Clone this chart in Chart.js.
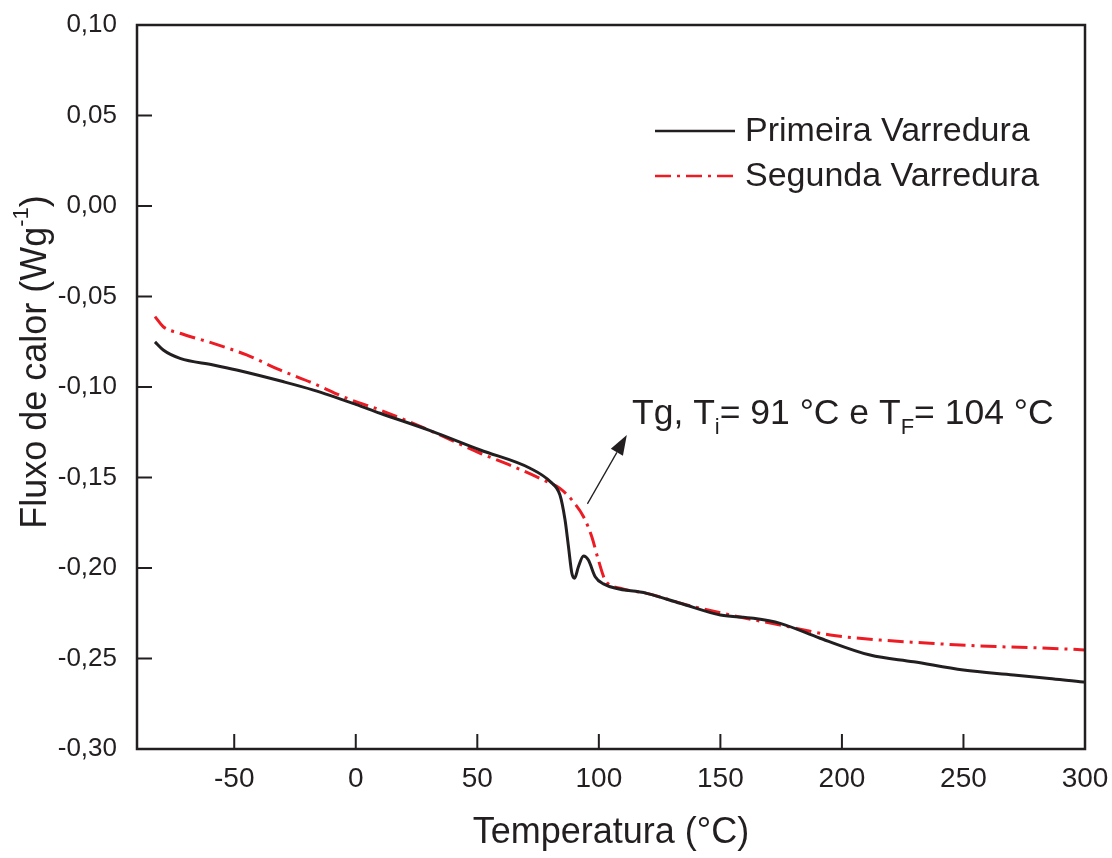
<!DOCTYPE html>
<html>
<head>
<meta charset="utf-8">
<script src="https://cdn.jsdelivr.net/npm/chart.js@4/dist/chart.umd.min.js"></script>
<style>
  html, body { margin: 0; padding: 0; background: #fff; }
  #wrap { width: 1112px; height: 858px; }
</style>
</head>
<body>
<div id="wrap"><canvas id="grafico-dsc"></canvas></div>
<script>
const tempPrimeira = [-82.6, -79.2, -72.3, -58.6, -49, -30, -17.4, 0, 10, 30.6, 51.2, 71.7, 80, 84, 86.1, 87.5, 88.9, 90, 91.6, 93.7, 95.7, 98.5, 101.9, 119.7, 133.5, 150, 163.6, 174.6, 191, 211.6, 229.5, 250, 270.6, 284.3, 298, 300];
const fluxoPrimeira = [-0.0751, -0.0796, -0.0842, -0.0878, -0.0906, -0.0970, -0.1017, -0.1096, -0.1145, -0.1241, -0.1348, -0.1449, -0.1523, -0.1597, -0.1735, -0.1882, -0.2029, -0.2057, -0.1993, -0.1934, -0.1956, -0.2048, -0.2088, -0.2140, -0.2195, -0.2260, -0.2278, -0.2306, -0.2388, -0.2481, -0.2518, -0.2564, -0.2591, -0.2609, -0.2628, -0.2630];

const tempSegunda = [-82.6, -79.2, -72.3, -58.6, -44.9, -31.2, -17.4, -3.7, 10, 30.6, 51.2, 64.9, 78.6, 84, 89.5, 93.7, 97.1, 99.8, 102.6, 108.8, 119.7, 136.2, 154.2, 174.6, 195.2, 215.8, 236.3, 256.9, 277.5, 294.6, 300];
const fluxoSegunda = [-0.0611, -0.0667, -0.0703, -0.0759, -0.0823, -0.0906, -0.0980, -0.1062, -0.1127, -0.1241, -0.1366, -0.1440, -0.1523, -0.1560, -0.1634, -0.1717, -0.1827, -0.1956, -0.2066, -0.2112, -0.2140, -0.2204, -0.2260, -0.2315, -0.2370, -0.2398, -0.2416, -0.2431, -0.2440, -0.2449, -0.2453];

const ticksX = [-50, 0, 50, 100, 150, 200, 250, 300];
const ticksY = [0.10, 0.05, 0.00, -0.05, -0.10, -0.15, -0.20, -0.25, -0.30];

const nomesSeries = ['Primeira Varredura', 'Segunda Varredura'];
// seta da anotação: cauda e ponta (°C, W/g)
const setaTg = [[95.3, -0.1646], [111.5, -0.1265]];

const COR_PRETA = '#231f20';
const COR_VERMELHA = '#ed1c24';
const TRACO_PONTO = [16, 6, 3, 6];
const FONTE = '"Liberation Sans", Arial, sans-serif';

const pares = (xs, ys) => xs.map((x, i) => ({ x: x, y: ys[i] }));

// Desenha moldura, ticks internos, legenda, título do eixo Y e anotação
const extrasPlugin = {
    id: 'extrasDsc',
    afterDatasetsDraw(chart) {
        const ctx = chart.ctx;
        const area = chart.chartArea;
        const sx = chart.scales.x;
        const sy = chart.scales.y;

        ctx.save();
        ctx.strokeStyle = COR_PRETA;
        ctx.lineWidth = 2.5;
        ctx.setLineDash([]);
        ctx.strokeRect(area.left, area.top, area.right - area.left, area.bottom - area.top);

        // ticks para dentro
        ctx.lineWidth = 2;
        ctx.beginPath();
        ticksX.forEach(v => {
            const px = sx.getPixelForValue(v);
            ctx.moveTo(px, area.bottom);
            ctx.lineTo(px, area.bottom - 15);
        });
        ticksY.forEach(v => {
            const py = sy.getPixelForValue(v);
            ctx.moveTo(area.left, py);
            ctx.lineTo(area.left + 15, py);
        });
        ctx.stroke();

        // legenda
        ctx.font = '34px ' + FONTE;
        ctx.fillStyle = COR_PRETA;
        ctx.textBaseline = 'middle';
        ctx.textAlign = 'left';
        const itens = [
            { y: 131, cor: COR_PRETA, dash: [] },
            { y: 176, cor: COR_VERMELHA, dash: TRACO_PONTO }
        ];
        itens.forEach((it, i) => {
            ctx.strokeStyle = it.cor;
            ctx.lineWidth = 2.5;
            ctx.setLineDash(it.dash);
            ctx.beginPath();
            ctx.moveTo(655, it.y);
            ctx.lineTo(735, it.y);
            ctx.stroke();
            ctx.fillText(nomesSeries[i], 745, it.y + 1);
        });
        ctx.setLineDash([]);

        // título do eixo Y com sobrescrito
        ctx.save();
        ctx.translate(33, 362);
        ctx.rotate(-Math.PI / 2);
        ctx.textBaseline = 'alphabetic';
        const base = 'Fluxo de calor (Wg';
        ctx.font = '36px ' + FONTE;
        const wBase = ctx.measureText(base).width;
        ctx.font = '22px ' + FONTE;
        const wSup = ctx.measureText('-1').width;
        ctx.font = '36px ' + FONTE;
        const wFim = ctx.measureText(')').width;
        const x0 = -(wBase + wSup + wFim) / 2;
        ctx.fillText(base, x0, 13);
        ctx.font = '22px ' + FONTE;
        ctx.fillText('-1', x0 + wBase, -5);
        ctx.font = '36px ' + FONTE;
        ctx.fillText(')', x0 + wBase + wSup, 13);
        ctx.restore();

        // anotação Tg com subscritos
        const partes = [
            ['Tg, T', false], ['i', true], ['= 91 °C e T', false], ['F', true], ['= 104 °C', false]
        ];
        ctx.textBaseline = 'alphabetic';
        let xt = 632;
        partes.forEach(([txt, sub]) => {
            ctx.font = (sub ? '22px ' : '35.5px ') + FONTE;
            ctx.fillText(txt, xt, sub ? 434 : 424);
            xt += ctx.measureText(txt).width;
        });

        // seta
        const x1 = sx.getPixelForValue(setaTg[0][0]), y1 = sy.getPixelForValue(setaTg[0][1]);
        const x2 = sx.getPixelForValue(setaTg[1][0]), y2 = sy.getPixelForValue(setaTg[1][1]);
        const ang = Math.atan2(y2 - y1, x2 - x1);
        const comp = 20, larg = 7;
        const bx = x2 - comp * Math.cos(ang), by = y2 - comp * Math.sin(ang);
        ctx.strokeStyle = COR_PRETA;
        ctx.lineWidth = 1.3;
        ctx.beginPath();
        ctx.moveTo(x1, y1);
        ctx.lineTo(bx, by);
        ctx.stroke();
        ctx.beginPath();
        ctx.moveTo(x2, y2);
        ctx.lineTo(bx + larg * Math.sin(ang), by - larg * Math.cos(ang));
        ctx.lineTo(bx - larg * Math.sin(ang), by + larg * Math.cos(ang));
        ctx.closePath();
        ctx.fill();
        ctx.restore();
    }
};

const ctx = document.getElementById('grafico-dsc').getContext('2d');
new Chart(ctx, {
    type: 'line',
    data: {
        datasets: [
            {
                label: nomesSeries[0],
                data: pares(tempPrimeira, fluxoPrimeira),
                borderColor: COR_PRETA,
                borderWidth: 3,
                pointRadius: 0,
                cubicInterpolationMode: 'monotone',
                fill: false
            },
            {
                label: nomesSeries[1],
                data: pares(tempSegunda, fluxoSegunda),
                borderColor: COR_VERMELHA,
                borderWidth: 3,
                borderDash: TRACO_PONTO,
                pointRadius: 0,
                cubicInterpolationMode: 'monotone',
                fill: false
            }
        ]
    },
    options: {
        responsive: true,
        maintainAspectRatio: false,
        animation: false,
        layout: { padding: { top: 25, right: 27, left: 0, bottom: 0 } },
        plugins: {
            legend: { display: false },
            tooltip: { enabled: false }
        },
        scales: {
            x: {
                type: 'linear',
                min: -90,
                max: 300,
                afterBuildTicks: s => { s.ticks = ticksX.map(v => ({ value: v })); },
                afterFit: s => {
                    s.height = 109;
                    s.paddingLeft = 0;
                    s.paddingRight = 0;
                },
                grid: { display: false, drawTicks: false },
                border: { display: false },
                ticks: {
                    color: COR_PRETA,
                    font: { family: FONTE, size: 28 },
                    padding: 13,
                    maxRotation: 0
                },
                title: {
                    display: true,
                    text: 'Temperatura (°C)',
                    color: COR_PRETA,
                    font: { family: FONTE, size: 36 },
                    padding: { top: 0, bottom: 3 }
                }
            },
            y: {
                min: -0.30,
                max: 0.10,
                afterBuildTicks: s => { s.ticks = ticksY.map(v => ({ value: v })); },
                afterFit: s => {
                    s.width = 137;
                    s.paddingTop = 0;
                    s.paddingBottom = 0;
                },
                grid: { display: false, drawTicks: false },
                border: { display: false },
                ticks: {
                    color: COR_PRETA,
                    font: { family: FONTE, size: 26 },
                    padding: 20,
                    callback: v => v.toFixed(2).replace('.', ',').replace('-0,00', '0,00')
                }
            }
        }
    },
    plugins: [extrasPlugin]
});
</script>
</body>
</html>
